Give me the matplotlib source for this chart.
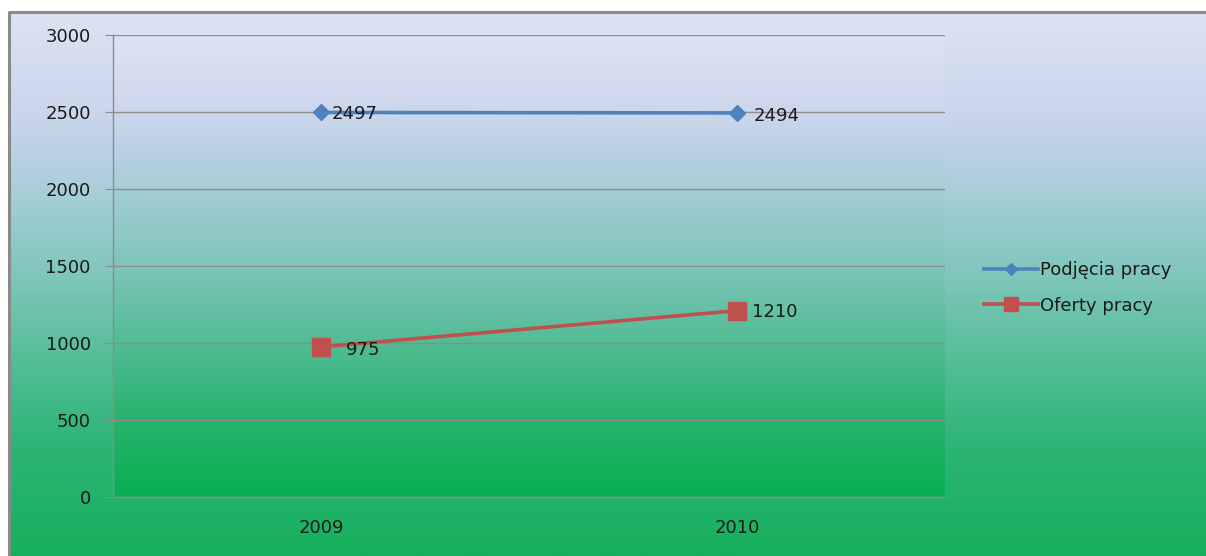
import numpy as np
import matplotlib
matplotlib.use("Agg")
import matplotlib.pyplot as plt
from matplotlib.colors import LinearSegmentedColormap

categories = ["2009", "2010"]
podjecia = [2497, 2494]
oferty = [975, 1210]
series_names = ["Podjęcia pracy", "Oferty pracy"]
yticks = [0, 500, 1000, 1500, 2000, 2500, 3000]

plt.rcParams['font.family'] = ['DejaVu Sans']
FS = 13

W, H = 1206, 556
fig = plt.figure(figsize=(W / 100, H / 100), dpi=100)
fig.patch.set_facecolor('white')

# background gradient (whole chart box)
grad_colors = [(0.0, (220/255, 228/255, 243/255)),
               (0.18, (203/255, 214/255, 236/255)),
               (0.33, (168/255, 206/255, 216/255)),
               (0.48, (128/255, 198/255, 188/255)),
               (0.63, (88/255, 190/255, 154/255)),
               (0.80, (45/255, 180/255, 118/255)),
               (1.0, (22/255, 176/255, 92/255))]
cmap = LinearSegmentedColormap.from_list("bg", grad_colors)

x0, y0 = 9, 12
bg = fig.add_axes([x0 / W, 0, 1 - x0 / W, 1 - y0 / H])
bg.imshow(np.linspace(0, 1, 256).reshape(-1, 1), aspect='auto', cmap=cmap,
          extent=[0, 1, 0, 1], origin='upper')
bg.set_xlim(0, 1)
bg.set_ylim(0, 1)
bg.axis('off')
bg.plot([0, 0, 1], [0, 1, 1], color='#8a8a8a', lw=2.2, transform=bg.transAxes,
        clip_on=False)

# plot area
left, right, top, bottom = 113, 945, 35, 497
ax = fig.add_axes([left / W, 1 - bottom / H, (right - left) / W, (bottom - top) / H])
ax.set_facecolor('none')
plot_colors = [(0.0, (222/255, 228/255, 243/255)),
               (0.17, (204/255, 214/255, 236/255)),
               (0.33, (166/255, 205/255, 215/255)),
               (0.50, (125/255, 197/255, 185/255)),
               (0.67, (82/255, 188/255, 148/255)),
               (0.83, (40/255, 179/255, 110/255)),
               (1.0, (8/255, 175/255, 82/255))]
cmap2 = LinearSegmentedColormap.from_list("pa", plot_colors)
ax.imshow(np.linspace(0, 1, 256).reshape(-1, 1), aspect='auto', cmap=cmap2,
          extent=[-0.5, 1.5, 0, 3000], origin='upper', zorder=0)

x = np.arange(len(categories))
ax.set_xlim(-0.5, 1.5)
ax.set_ylim(0, 3000)
ax.set_yticks(yticks)
ax.set_xticks(x)
ax.set_xticklabels(categories)
ax.yaxis.grid(True, color='#8c8c8c', lw=1.0, zorder=1)
ax.set_axisbelow(True)
for s in ['top', 'right']:
    ax.spines[s].set_visible(False)
for s in ['left', 'bottom']:
    ax.spines[s].set_color('#8c8c8c')
    ax.spines[s].set_linewidth(1.0)
ax.tick_params(axis='y', length=6, color='#8c8c8c', labelsize=FS, pad=10,
               labelcolor='#1a1a1a')
ax.tick_params(axis='x', length=0, labelsize=FS, pad=16, labelcolor='#1a1a1a')

blue = '#4f81bd'
red = '#c0504d'
l1, = ax.plot(x, podjecia, color=blue, lw=2.6, marker='D', markersize=8.5,
              label=series_names[0], zorder=3)
l2, = ax.plot(x, oferty, color=red, lw=2.6, marker='s', markersize=13,
              label=series_names[1], zorder=3)

pod_offsets = [(8, -1), (12, -2)]
ofe_offsets = [(18, -2), (11, -1)]
for xi, v, off in zip(x, podjecia, pod_offsets):
    ax.annotate(str(v), (xi, v), xytext=off, textcoords='offset points',
                ha='left', va='center', fontsize=FS, color='#1a1a1a', zorder=4)
for xi, v, off in zip(x, oferty, ofe_offsets):
    ax.annotate(str(v), (xi, v), xytext=off, textcoords='offset points',
                ha='left', va='center', fontsize=FS, color='#1a1a1a', zorder=4)

leg = fig.legend(handles=[l1, l2], loc='center left',
                 bbox_to_anchor=(968 / W, 1 - 288 / H), frameon=False,
                 fontsize=FS, handlelength=3.0, handletextpad=0.1,
                 labelspacing=0.95, markerscale=0.75)
for t in leg.get_texts():
    t.set_color('#1a1a1a')

fig.savefig("out.png", dpi=100, facecolor='white')
